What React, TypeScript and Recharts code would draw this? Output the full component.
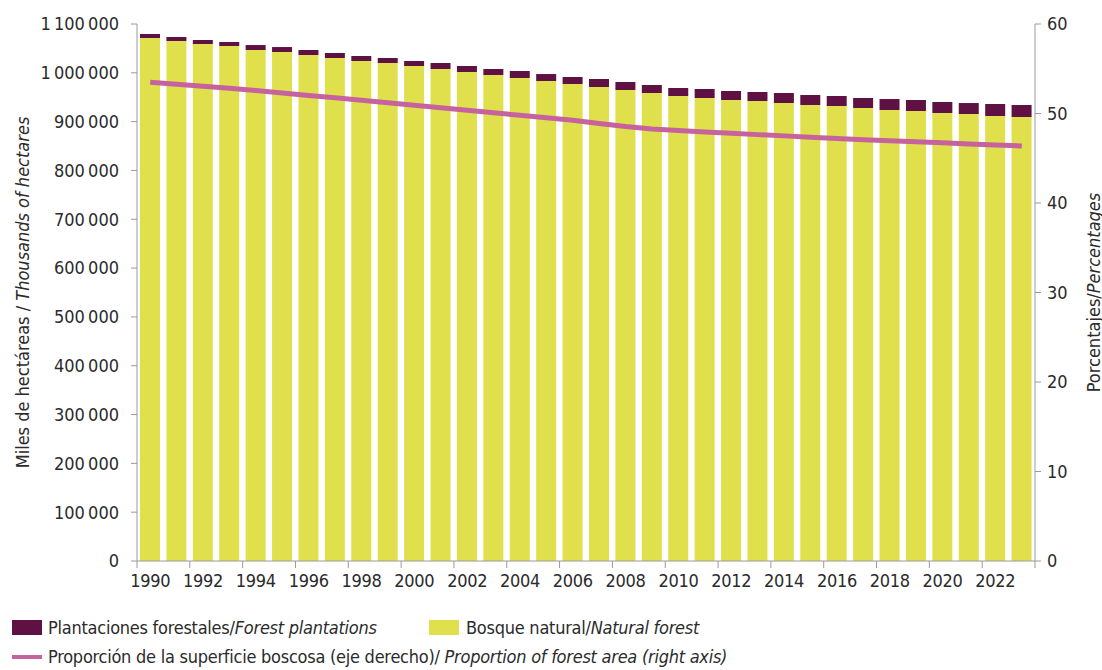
import React from 'react';
import { ComposedChart, Bar, Line, XAxis, YAxis } from 'recharts';

const years = [1990,1991,1992,1993,1994,1995,1996,1997,1998,1999,2000,2001,2002,2003,2004,2005,2006,2007,2008,2009,2010,2011,2012,2013,2014,2015,2016,2017,2018,2019,2020,2021,2022,2023];
const naturalForest = [1071300,1065200,1059000,1054900,1046700,1042600,1036500,1030400,1024200,1020100,1014000,1007800,1001700,995500,989400,983200,977100,970900,964800,958700,952500,948400,944300,942300,938200,934100,932000,927900,923800,921800,917700,915600,911500,909500];
const forestPlantations = [8200,8200,8200,8200,10200,10200,10200,10200,10200,10200,10200,12300,12300,12300,14300,14300,14300,16400,16400,16400,16400,18400,18400,18400,20500,20500,20500,20500,22500,22500,22500,22500,24600,24600];
const forestShare = [53.49,53.26,53.04,52.82,52.56,52.29,52.02,51.75,51.48,51.21,50.93,50.65,50.37,50.08,49.80,49.52,49.24,48.89,48.55,48.28,48.10,47.94,47.79,47.64,47.50,47.35,47.21,47.07,46.95,46.84,46.72,46.60,46.48,46.37];
const leftTicks = [0,100000,200000,300000,400000,500000,600000,700000,800000,900000,1000000,1100000];
const rightTicks = [0,10,20,30,40,50,60];

const data = years.map((y, i) => ({
  year: String(y),
  natural: naturalForest[i],
  plantations: forestPlantations[i],
  share: forestShare[i],
}));

const FONT = '"Liberation Sans Narrow", "DejaVu Sans Condensed", "Roboto", sans-serif';
const TEXT = '#2b2b2b';
const AXIS = '#9a9a9a';
const C_NAT = '#dfe04c';
const C_PLANT = '#5e1142';
const C_LINE = '#c6639f';

const PLOT_LEFT = 137;
const PLOT_RIGHT = 1035;
const BAND = (PLOT_RIGHT - PLOT_LEFT) / years.length;

const fmt = (v: number) => String(v).replace(/\B(?=(\d{3})+(?!\d))/g, '\u2009');

const XTick = (props: any) => {
  const { x, y, payload } = props;
  const isLast = payload.value === '2022';
  return (
    <g>
      <line x1={x - BAND / 2} x2={x - BAND / 2} y1={y - 8} y2={y - 1} stroke={AXIS} strokeWidth={1} />
      {isLast && (
        <line x1={x + BAND * 1.5} x2={x + BAND * 1.5} y1={y - 8} y2={y - 1} stroke={AXIS} strokeWidth={1} />
      )}
      <text x={x} y={y + 18} textAnchor="middle" fill={TEXT} fontSize={18} fontFamily={FONT} letterSpacing={-0.3}>
        {payload.value}
      </text>
    </g>
  );
};

const LeftLabel = (props: any) => {
  const vb = props.viewBox || {};
  const cx = 22;
  const cy = (vb.y || 24) + (vb.height || 537) / 2;
  return (
    <text x={cx} y={cy} transform={`rotate(-90 ${cx} ${cy})`} textAnchor="middle" dominantBaseline="central" fill={TEXT} fontSize={18} fontFamily={FONT}>
      <tspan>Miles de hectáreas / </tspan>
      <tspan fontStyle="italic">Thousands of hectares</tspan>
    </text>
  );
};

const RightLabel = (props: any) => {
  const vb = props.viewBox || {};
  const cx = 1093;
  const cy = (vb.y || 24) + (vb.height || 537) / 2;
  return (
    <text x={cx} y={cy} transform={`rotate(-90 ${cx} ${cy})`} textAnchor="middle" dominantBaseline="central" fill={TEXT} fontSize={18} fontFamily={FONT}>
      <tspan>Porcentajes/</tspan>
      <tspan fontStyle="italic">Percentages</tspan>
    </text>
  );
};

const legendText: React.CSSProperties = { fontSize: 18, letterSpacing: -0.25, color: TEXT, whiteSpace: 'nowrap' };

export default function App() {
  return (
    <div style={{ position: 'absolute', left: 0, top: 0, width: 1102, height: 670, background: '#fff', fontFamily: FONT }}>
      <ComposedChart
        width={1102}
        height={600}
        data={data}
        margin={{ top: 24, right: 0, left: 0, bottom: 0 }}
        barCategoryGap={0}
      >
        <XAxis
          dataKey="year"
          xAxisId="x"
          height={39}
          interval={1}
          tickLine={false}
          axisLine={{ stroke: AXIS }}
          tick={<XTick />}
        />
        <YAxis
          yAxisId="left"
          orientation="left"
          width={137}
          domain={[0, 1100000]}
          ticks={leftTicks}
          interval={0}
          tickFormatter={fmt}
          tickSize={6}
          tickMargin={12}
          tickLine={{ stroke: AXIS }}
          axisLine={{ stroke: AXIS }}
          tick={{ fill: TEXT, fontSize: 18, fontFamily: FONT }}
          label={{ content: <LeftLabel /> } as any}
        />
        <YAxis
          yAxisId="right"
          orientation="right"
          width={67}
          domain={[0, 60]}
          ticks={rightTicks}
          interval={0}
          tickSize={6}
          tickMargin={6}
          tickLine={{ stroke: AXIS }}
          axisLine={{ stroke: AXIS }}
          tick={{ fill: TEXT, fontSize: 18, fontFamily: FONT }}
          label={{ content: <RightLabel /> } as any}
        />
        <Bar xAxisId="x" yAxisId="left" dataKey="natural" stackId="a" fill={C_NAT} barSize={20} isAnimationActive={false} />
        <Bar xAxisId="x" yAxisId="left" dataKey="plantations" stackId="a" fill={C_PLANT} barSize={20} isAnimationActive={false} />
        <Line xAxisId="x" yAxisId="right" dataKey="share" stroke={C_LINE} strokeWidth={5} dot={false} activeDot={false} type="linear" isAnimationActive={false} />
      </ComposedChart>

      <div style={{ position: 'absolute', left: 12, top: 617, display: 'flex', alignItems: 'center' }}>
        <span style={{ display: 'inline-block', width: 30, height: 15, background: C_PLANT, marginRight: 6 }} />
        <span style={legendText}>Plantaciones forestales/<i>Forest plantations</i></span>
      </div>
      <div style={{ position: 'absolute', left: 429, top: 617, display: 'flex', alignItems: 'center' }}>
        <span style={{ display: 'inline-block', width: 30, height: 15, background: C_NAT, marginRight: 7 }} />
        <span style={legendText}>Bosque natural/<i>Natural forest</i></span>
      </div>
      <div style={{ position: 'absolute', left: 12, top: 646, display: 'flex', alignItems: 'center' }}>
        <span style={{ display: 'inline-block', width: 30, height: 4, background: C_LINE, marginRight: 6 }} />
        <span style={legendText}>Proporción de la superficie boscosa (eje derecho)/ <i>Proportion of forest area (right axis)</i></span>
      </div>
    </div>
  );
}
